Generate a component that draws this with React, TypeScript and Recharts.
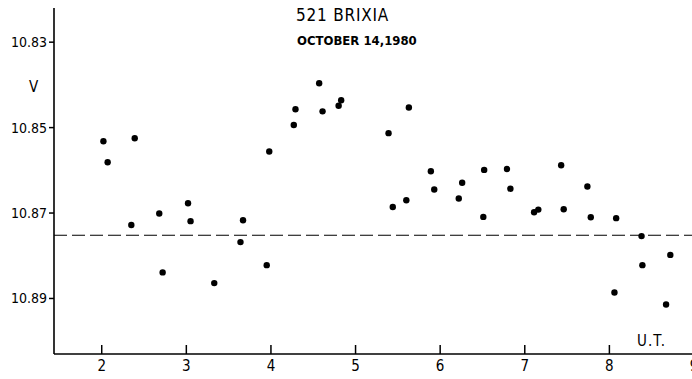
import { ReferenceLine, Scatter, ScatterChart, XAxis, YAxis } from "recharts";

const FONT = "'Liberation Sans Narrow', 'DejaVu Sans Condensed', 'Roboto', sans-serif";

// U.T. hours and V magnitudes
const utHours = [
  2.02, 2.07, 2.39, 2.35, 2.68, 2.72, 3.02, 3.05, 3.33, 3.64, 3.67, 3.95, 3.98, 4.27, 4.29,
  4.57, 4.61, 4.8, 4.83, 5.39, 5.44, 5.6, 5.63, 5.89, 5.93, 6.22, 6.26, 6.51, 6.52, 6.79,
  6.83, 7.11, 7.16, 7.43, 7.46, 7.74, 7.78, 8.08, 8.06, 8.38, 8.39, 8.72, 8.67,
];
const vMags = [
  10.8532, 10.8581, 10.8525, 10.8728, 10.8701, 10.8839, 10.8677, 10.8719, 10.8864, 10.8768,
  10.8717, 10.8822, 10.8556, 10.8494, 10.8457, 10.8396, 10.8462, 10.8449, 10.8436, 10.8513,
  10.8686, 10.867, 10.8453, 10.8602, 10.8645, 10.8666, 10.8629, 10.8709, 10.8599, 10.8597,
  10.8643, 10.8698, 10.8692, 10.8588, 10.8691, 10.8638, 10.871, 10.8712, 10.8886, 10.8754,
  10.8822, 10.8798, 10.8914,
];
const meanMag = 10.8752;
const xTicks = [2, 3, 4, 5, 6, 7, 8, 9];
const yTicks = [10.83, 10.85, 10.87, 10.89];

const points = utHours.map((x, i) => ({ x, y: vMags[i] }));

function XTick({ x, y, payload }: any) {
  return (
    <g>
      <line x1={x} x2={x} y1={y - 9} y2={y} stroke="#000" strokeWidth={1.5} />
      <text x={x} y={y + 17} textAnchor="middle" fontSize={15} fill="#000" fontFamily={FONT}>
        {payload.value}
      </text>
    </g>
  );
}

const dot = (p: any) => <circle cx={p.cx} cy={p.cy} r={3.2} fill="#000" />;

const label = (extra: React.CSSProperties): React.CSSProperties => ({
  position: "absolute",
  fontFamily: FONT,
  color: "#000",
  lineHeight: 1,
  whiteSpace: "nowrap",
  ...extra,
});

export default function App() {
  return (
    <div
      style={{
        position: "absolute",
        left: 0,
        top: 0,
        width: 692,
        height: 379,
        overflow: "hidden",
        background: "#fff",
      }}
    >
      <ScatterChart width={694} height={379} margin={{ top: 8, right: 0, bottom: 0, left: 0 }}>
        <XAxis
          type="number"
          dataKey="x"
          domain={[1.436, 9]}
          ticks={xTicks}
          interval={0}
          allowDataOverflow
          height={25}
          tickSize={0}
          tickMargin={0}
          tickLine={false}
          tick={<XTick />}
          axisLine={{ stroke: "#000", strokeWidth: 1.6 }}
        />
        <YAxis
          type="number"
          dataKey="y"
          domain={[10.822, 10.903]}
          reversed
          allowDataOverflow
          ticks={yTicks}
          interval={0}
          width={54}
          tickSize={5}
          tickMargin={2}
          tickFormatter={(v) => Number(v).toFixed(2)}
          tick={{ fill: "#000", fontSize: 14, fontFamily: FONT }}
          tickLine={{ stroke: "#000", strokeWidth: 1.5 }}
          axisLine={{ stroke: "#000", strokeWidth: 1.6 }}
        />
        <ReferenceLine y={meanMag} stroke="#000" strokeWidth={1.2} strokeDasharray="13 5" />
        <Scatter data={points} fill="#000" shape={dot} isAnimationActive={false} />
      </ScatterChart>
      <div style={label({ left: 296, top: 7, fontSize: 17, letterSpacing: 0.8 })}>521 BRIXIA</div>
      <div style={label({ left: 297, top: 34, fontSize: 13, fontWeight: 700 })}>
        OCTOBER 14,1980
      </div>
      <div style={label({ left: 29, top: 80, fontSize: 15 })}>V</div>
      <div style={label({ left: 637, top: 334, fontSize: 15, letterSpacing: 1 })}>U.T.</div>
    </div>
  );
}
